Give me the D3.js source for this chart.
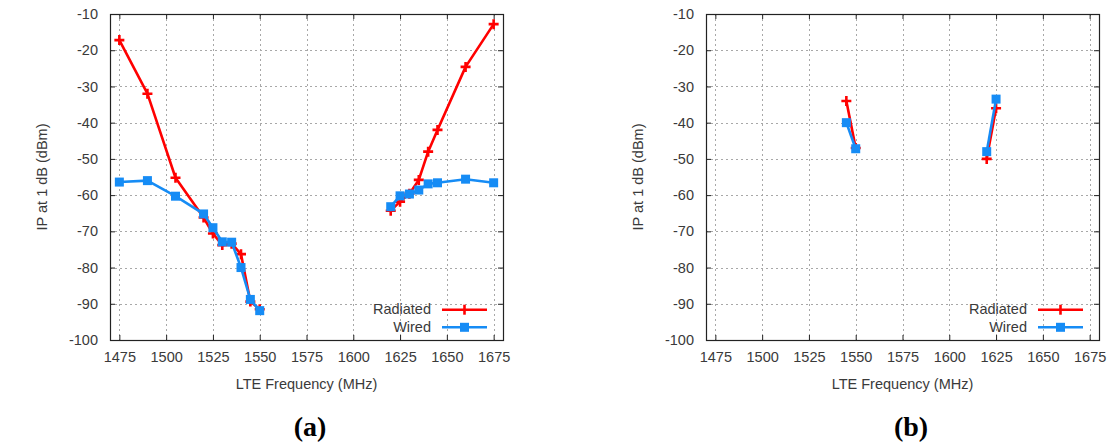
<!DOCTYPE html>
<html>
<head>
<meta charset="utf-8">
<script src="https://cdn.jsdelivr.net/npm/d3@7"></script>
<style>
  html, body { margin: 0; padding: 0; background: #fff; }
  svg { display: block; }
</style>
</head>
<body>
<svg id="chart" width="1107" height="442"></svg>
<script>
// Intermodulation power at 1 dB compression versus LTE frequency
const xTicks = [1475, 1500, 1525, 1550, 1575, 1600, 1625, 1650, 1675];
const yTicks = [-10, -20, -30, -40, -50, -60, -70, -80, -90, -100];
const seriesNames = ["Radiated", "Wired"];

// Panel (a): two segments per series (lower band and upper band)
const aRadiatedLow = [[1475, -17.2], [1490, -32], [1505, -55.2], [1520, -66.2], [1525, -70.6], [1530, -73.8], [1535, -73.4], [1540, -76.3], [1545, -89.4], [1550, -91.5]];
const aRadiatedHigh = [[1620, -64.3], [1625, -61.8], [1630, -59.6], [1635, -55.8], [1640, -48.0], [1645, -42.0], [1660, -24.6], [1675, -12.8]];
const aWiredLow = [[1475, -56.4], [1490, -56.0], [1505, -60.3], [1520, -65.2], [1525, -69.0], [1530, -72.9], [1535, -73.0], [1540, -80.0], [1545, -88.8], [1550, -91.9]];
const aWiredHigh = [[1620, -63.2], [1625, -60.2], [1630, -59.7], [1635, -58.6], [1640, -56.9], [1645, -56.6], [1660, -55.6], [1675, -56.6]];

// Panel (b)
const bRadiatedLow = [[1545, -34.0], [1550, -47.0]];
const bRadiatedHigh = [[1620, -50.0], [1625, -36.0]];
const bWiredLow = [[1545, -40.0], [1550, -47.2]];
const bWiredHigh = [[1620, -48.0], [1625, -33.5]];

const panelCaptions = ["(a)", "(b)"];

const RED = "#ff0000";
const BLUE = "#168cf5";
const FONT = "'Liberation Sans', Arial, sans-serif";
const FONT_SIZE = "14.5px";
const TEXT = "#3a3a3a";

const svg = d3.select("#chart");

function drawPanel(left, caption, captionOffset, radiated, wired) {
  const m = { left: left, top: 14, width: 393, height: 326 };
  const g = svg.append("g").attr("transform", `translate(${m.left},${m.top})`);

  const x = d3.scaleLinear().domain([1470, 1680]).range([0, m.width]);
  const y = d3.scaleLinear().domain([-100, -10]).range([m.height, 0]);

  // dotted grid
  g.append("g").selectAll("line").data(xTicks).join("line")
    .attr("x1", d => Math.round(x(d)) + 0.5).attr("x2", d => Math.round(x(d)) + 0.5)
    .attr("y1", 0).attr("y2", m.height)
    .attr("stroke", "#a8a8a8").attr("stroke-width", 1).attr("stroke-dasharray", "2,3");
  g.append("g").selectAll("line").data(yTicks.slice(1, -1)).join("line")
    .attr("y1", d => Math.round(y(d)) + 0.5).attr("y2", d => Math.round(y(d)) + 0.5)
    .attr("x1", 0).attr("x2", m.width)
    .attr("stroke", "#a8a8a8").attr("stroke-width", 1).attr("stroke-dasharray", "2,3");

  // axes with inward ticks on all four sides
  const axisStyle = sel => {
    sel.select(".domain").remove();
    sel.selectAll(".tick line").attr("stroke", "#222");
    sel.selectAll(".tick text").attr("fill", TEXT).style("font-family", FONT).style("font-size", FONT_SIZE);
  };
  const plain = d => String(d);
  g.append("g").attr("transform", `translate(0,${m.height})`)
    .call(d3.axisBottom(x).tickValues(xTicks).tickSize(-5).tickPadding(12).tickFormat(plain))
    .call(axisStyle);
  g.append("g")
    .call(d3.axisTop(x).tickValues(xTicks).tickSize(-5).tickFormat(""))
    .call(axisStyle);
  g.append("g")
    .call(d3.axisLeft(y).tickValues(yTicks).tickSize(-5).tickPadding(12).tickFormat(plain))
    .call(axisStyle);
  g.append("g").attr("transform", `translate(${m.width},0)`)
    .call(d3.axisRight(y).tickValues(yTicks).tickSize(-5).tickFormat(""))
    .call(axisStyle);

  g.append("rect").attr("x", 0.5).attr("y", 0.5).attr("width", m.width).attr("height", m.height)
    .attr("fill", "none").attr("stroke", "#222").attr("stroke-width", 1.2);

  // axis titles
  g.append("text").attr("x", m.width / 2).attr("y", m.height + 49)
    .attr("text-anchor", "middle").attr("fill", TEXT)
    .style("font-family", FONT).style("font-size", FONT_SIZE)
    .text("LTE Frequency (MHz)");
  g.append("text")
    .attr("transform", `translate(-63,${m.height / 2}) rotate(-90)`)
    .attr("text-anchor", "middle").attr("fill", TEXT)
    .style("font-family", FONT).style("font-size", FONT_SIZE)
    .text("IP at 1 dB (dBm)");

  // caption
  svg.append("text").attr("x", m.left + captionOffset).attr("y", 436)
    .attr("text-anchor", "middle").attr("fill", "#000")
    .style("font-family", "'Liberation Serif', 'Times New Roman', serif")
    .style("font-size", "28px").style("font-weight", "bold")
    .text(caption);

  const line = d3.line().x(d => x(d[0])).y(d => y(d[1]));

  const plotRadiated = segs => {
    segs.forEach(s => {
      g.append("path").datum(s).attr("d", line)
        .attr("fill", "none").attr("stroke", RED).attr("stroke-width", 2.6).attr("stroke-linejoin", "round");
    });
    const pts = segs.flat();
    g.append("g").selectAll("path").data(pts).join("path")
      .attr("d", d => { const cx = x(d[0]), cy = y(d[1]); return `M${cx - 5},${cy}H${cx + 5}M${cx},${cy - 5}V${cy + 5}`; })
      .attr("stroke", RED).attr("stroke-width", 2.6).attr("fill", "none");
  };
  const plotWired = segs => {
    segs.forEach(s => {
      g.append("path").datum(s).attr("d", line)
        .attr("fill", "none").attr("stroke", BLUE).attr("stroke-width", 2.6).attr("stroke-linejoin", "round");
    });
    const pts = segs.flat();
    g.append("g").selectAll("rect").data(pts).join("rect")
      .attr("x", d => x(d[0]) - 4.5).attr("y", d => y(d[1]) - 4.5)
      .attr("width", 9).attr("height", 9).attr("fill", BLUE);
  };

  plotRadiated(radiated);
  plotWired(wired);

  // legend
  const lg = g.append("g");
  const legendRows = [
    { name: seriesNames[0], color: RED, y: 295.7 },
    { name: seriesNames[1], color: BLUE, y: 313.3 }
  ];
  legendRows.forEach((r, i) => {
    lg.append("text").attr("x", 321).attr("y", r.y + 4.5)
      .attr("text-anchor", "end").attr("fill", TEXT)
      .style("font-family", FONT).style("font-size", FONT_SIZE).text(r.name);
    lg.append("line").attr("x1", 332).attr("x2", 377).attr("y1", r.y).attr("y2", r.y)
      .attr("stroke", r.color).attr("stroke-width", 2.6);
    if (i === 0) {
      lg.append("path").attr("d", `M354.5,${r.y - 5}V${r.y + 5}`)
        .attr("stroke", r.color).attr("stroke-width", 2.6);
    } else {
      lg.append("rect").attr("x", 350).attr("y", r.y - 4.5).attr("width", 9).attr("height", 9).attr("fill", r.color);
    }
  });
}

drawPanel(110, panelCaptions[0], 200, [aRadiatedLow, aRadiatedHigh], [aWiredLow, aWiredHigh]);
drawPanel(706, panelCaptions[1], 205, [bRadiatedLow, bRadiatedHigh], [bWiredLow, bWiredHigh]);
</script>
</body>
</html>
